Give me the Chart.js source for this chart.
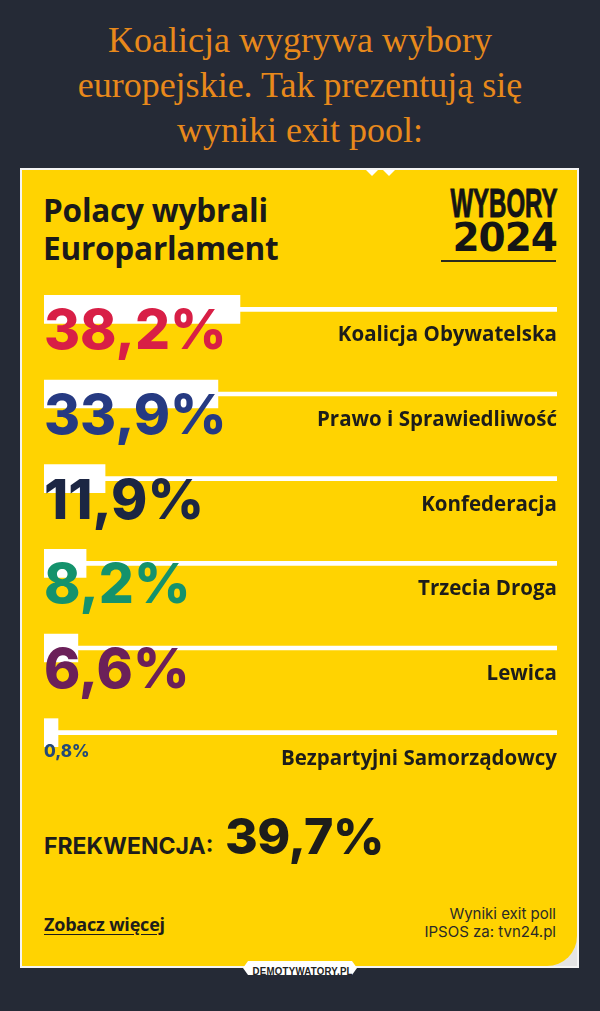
<!DOCTYPE html>
<html lang="pl">
<head>
<meta charset="utf-8">
<script src="https://cdn.jsdelivr.net/npm/chart.js@4.4.1/dist/chart.umd.min.js"></script>
<style>
  html, body { margin: 0; padding: 0; }
  body { width: 600px; height: 1011px; background: #252a36; position: relative; overflow: hidden; }
  .abs { position: absolute; }
  #title { left: 0; top: 18px; width: 600px; text-align: center; font: 36px "Liberation Serif", serif; line-height: 45px; color: #e8891b; }
  #card { left: 20px; top: 168px; width: 559px; height: 800px; box-sizing: border-box; border: 2px solid #f4f4f4; background: #e4e4e4; }
  #cardInner { position: absolute; left: 0; top: 0; right: 0; bottom: 0; background: #ffd301; border-bottom-right-radius: 30px; }
  .notch { width: 0; height: 0; border-left: 6px solid transparent; border-right: 6px solid transparent; border-top: 6px solid #fff; top: 170px; }
  #head { left: 43px; top: 191px; font: 700 31.5px "Open Sans", sans-serif; line-height: 38px; color: #1a1a1a; letter-spacing: -0.2px; }
  #logo1 { right: 42px; top: 183px; font: 700 40px "Liberation Sans", sans-serif; line-height: 40px; color: #151515; transform: scaleX(0.6); transform-origin: right top; -webkit-text-stroke: 1px #151515; }
  #logo2 { right: 43px; top: 218px; font: 700 39px "DejaVu Sans", sans-serif; line-height: 40px; color: #151515; letter-spacing: -1px; }
  #logoLine { left: 441px; top: 260px; width: 115px; height: 2px; background: #2a2a1e; }
  #frek { left: 44px; top: 835px; font: 700 23px Inter, sans-serif; line-height: 23px; color: #1d1d1b; }
  #turnout { left: 225px; top: 811px; font: 800 50px Inter, sans-serif; line-height: 50px; color: #1d1d1b; letter-spacing: -0.5px; }
  #more { left: 44px; top: 915px; font: 700 18px "Open Sans", sans-serif; line-height: 18px; color: #1d1d1b; text-decoration: underline; text-underline-offset: 3px; letter-spacing: -0.2px; }
  #source { right: 44px; top: 905px; font: 400 15px Inter, sans-serif; line-height: 18px; color: #2a2a28; text-align: right; }
  #tab { left: 243px; top: 961px; width: 114px; height: 14px; background: #fff; clip-path: polygon(5px 0, 109px 0, 114px 7px, 109px 14px, 5px 14px, 0 7px); text-align: center; }
  #tab span { display: inline-block; font: 700 11.5px "Liberation Sans", sans-serif; line-height: 14px; color: #222; transform: scaleX(0.84); letter-spacing: 0.3px; }
  #chart { position: absolute; left: 0; top: 0; }
</style>
</head>
<body>
<div id="title" class="abs">Koalicja wygrywa wybory<br>europejskie. Tak prezentują się<br>wyniki exit pool:</div>
<div id="card" class="abs"><div id="cardInner"></div></div>
<div class="abs notch" style="left:366px"></div>
<div class="abs notch" style="left:383px"></div>
<div id="head" class="abs">Polacy wybrali<br>Europarlament</div>
<div id="logo1" class="abs">WYBORY</div>
<div id="logo2" class="abs">2024</div>
<div id="logoLine" class="abs"></div>
<div id="frek" class="abs">FREKWENCJA:</div>
<div id="turnout" class="abs"></div>
<div id="more" class="abs">Zobacz więcej</div>
<div id="source" class="abs">Wyniki exit poll<br>IPSOS za: tvn24.pl</div>
<div id="tab" class="abs"><span>DEMOTYWATORY.PL</span></div>
<canvas id="chart" width="600" height="1011"></canvas>
<script>
// ---- data ----
const parties = ['Koalicja Obywatelska', 'Prawo i Sprawiedliwość', 'Konfederacja', 'Trzecia Droga', 'Lewica', 'Bezpartyjni Samorządowcy'];
const results = [38.2, 33.9, 11.9, 8.2, 6.6, 0.8];
const trackValues = [100, 100, 100, 100, 100, 100];
const axisMin = 0;
const axisMax = 100;
const turnout = 39.7;
const partyColors = ['#d81f46', '#263a82', '#1c2643', '#14926c', '#6b2059', '#234878'];

function fmt(v) { return v.toFixed(1).replace('.', ',') + '%'; }
document.getElementById('turnout').textContent = fmt(turnout);

const rowLabels = {
  id: 'rowLabels',
  afterDatasetsDraw(chart) {
    const { ctx, scales: { x, y } } = chart;
    const x0 = x.getPixelForValue(axisMin);
    const x1 = x.getPixelForValue(axisMax);
    ctx.save();
    ctx.textBaseline = 'alphabetic';
    parties.forEach((name, i) => {
      const cy = y.getPixelForValue(i);
      const v = results[i];
      const big = v >= 1;
      ctx.fillStyle = partyColors[i];
      ctx.textAlign = 'left';
      ctx.font = big ? '800 55px Inter' : '800 17px Inter';
      ctx.fillText(fmt(v), x0, cy + (big ? 40 : 24));
      ctx.fillStyle = '#1d1d1b';
      ctx.textAlign = 'right';
      ctx.font = '700 20.5px "Open Sans"';
      ctx.fillText(name, x1, cy + 32);
    });
    ctx.restore();
  }
};

new Chart(document.getElementById('chart'), {
  type: 'bar',
  data: {
    labels: parties,
    datasets: [
      { data: trackValues, backgroundColor: '#ffffff', barThickness: 4, grouped: false, order: 2 },
      { data: results, backgroundColor: '#ffffff', barThickness: 28, minBarLength: 14, grouped: false, order: 1 }
    ]
  },
  options: {
    indexAxis: 'y',
    responsive: false,
    animation: false,
    devicePixelRatio: 1,
    layout: { padding: { left: 44, right: 43, top: 267, bottom: 236 } },
    plugins: { legend: { display: false }, tooltip: { enabled: false }, title: { display: false } },
    scales: {
      x: { display: false, min: axisMin, max: axisMax },
      y: { display: false }
    }
  },
  plugins: [rowLabels]
});
</script>
</body>
</html>
